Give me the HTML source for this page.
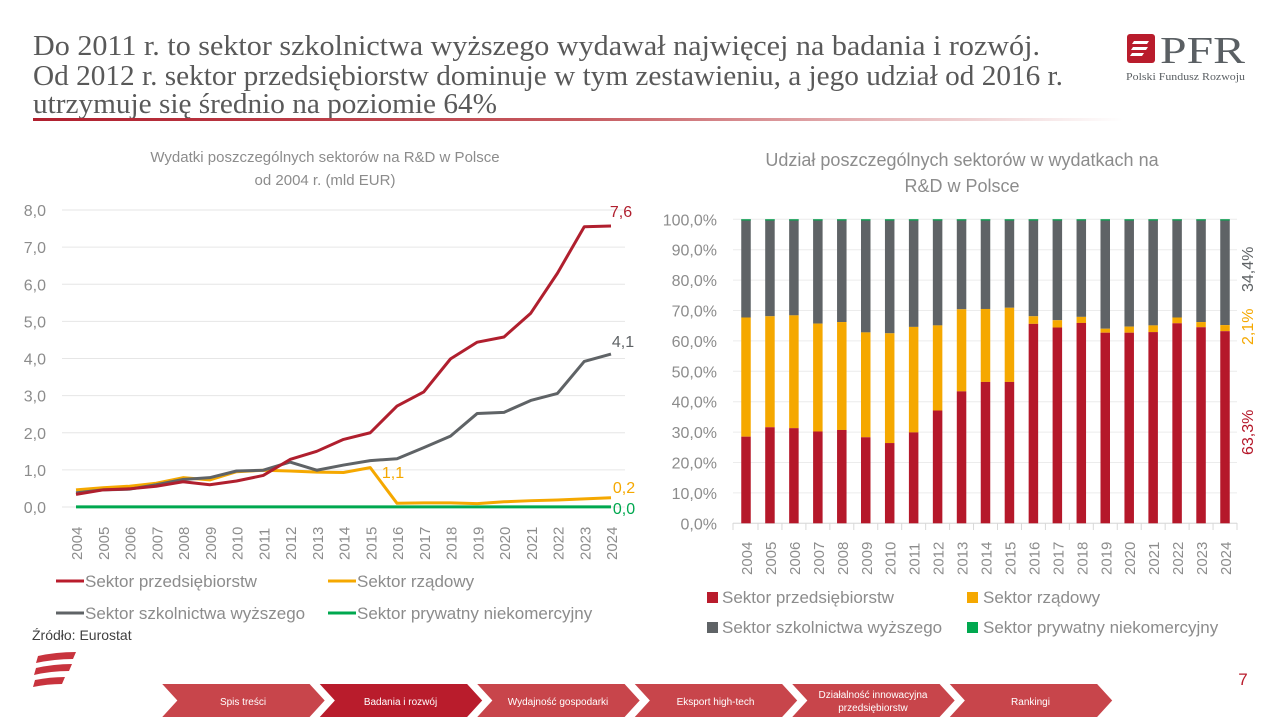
<!DOCTYPE html>
<html><head><meta charset="utf-8"><style>
html,body{margin:0;padding:0;background:#fff;}
body{width:1278px;height:718px;overflow:hidden;position:relative;}
svg{position:absolute;left:0;top:0;}
</style></head><body>
<svg id="s" width="1278" height="718" xmlns="http://www.w3.org/2000/svg" font-family="Liberation Sans, DejaVu Sans, sans-serif">
<defs>
<linearGradient id="g1" x1="0" x2="1" y1="0" y2="0"><stop offset="0" stop-color="#b01f2e"/><stop offset="0.5" stop-color="#c55a5f"/><stop offset="1" stop-color="#ffffff"/></linearGradient>
</defs>
<g font-family="Liberation Serif, serif" font-size="29" fill="#595959">
<text x="33" y="55" textLength="1007" lengthAdjust="spacingAndGlyphs">Do 2011 r. to sektor szkolnictwa wyższego wydawał najwięcej na badania i rozwój.</text>
<text x="33" y="85" textLength="1030" lengthAdjust="spacingAndGlyphs">Od 2012 r. sektor przedsiębiorstw dominuje w tym zestawieniu, a jego udział od 2016 r.</text>
<text x="33" y="113" textLength="464" lengthAdjust="spacingAndGlyphs">utrzymuje się średnio na poziomie 64%</text>
</g>
<rect x="33" y="118" width="1090" height="3" fill="url(#g1)"/>
<!-- logo -->
<rect x="1127" y="34" width="28" height="29" rx="3" fill="#b91c2c"/>
<path d="M1134 41 h15 l-2 3 h-15z M1133 47 h15 l-2 3 h-15z M1132 53 h12 l-2 3 h-12z" fill="#fff"/>
<text x="1160" y="63" font-family="Liberation Serif, serif" font-size="38" fill="#5a5f63" textLength="85" lengthAdjust="spacingAndGlyphs">PFR</text>
<text x="1126" y="80" font-family="Liberation Serif, serif" font-size="10" fill="#5a5f63" textLength="119" lengthAdjust="spacingAndGlyphs">Polski Fundusz Rozwoju</text>
<g font-size="15" fill="#8c8c8c" text-anchor="middle">
<text x="325" y="162">Wydatki poszczególnych sektorów na R&amp;D w Polsce</text>
<text x="325" y="185">od 2004 r. (mld EUR)</text>
</g>
<g font-size="18" fill="#8c8c8c" text-anchor="middle">
<text x="962" y="166">Udział poszczególnych sektorów w wydatkach na</text>
<text x="962" y="192">R&amp;D w Polsce</text>
</g>
<g id="left"></g>
<g id="right"></g>
<g font-size="17" fill="#8c8c8c">
<line x1="56" y1="581" x2="84" y2="581" stroke="#b91c2c" stroke-width="3"/><text x="85" y="587">Sektor przedsiębiorstw</text>
<line x1="328" y1="581" x2="356" y2="581" stroke="#f5a800" stroke-width="3"/><text x="357" y="587">Sektor rządowy</text>
<line x1="56" y1="613" x2="84" y2="613" stroke="#5f6366" stroke-width="3"/><text x="85" y="619">Sektor szkolnictwa wyższego</text>
<line x1="328" y1="613" x2="356" y2="613" stroke="#00a84f" stroke-width="3"/><text x="357" y="619">Sektor prywatny niekomercyjny</text>
<rect x="707" y="592" width="11" height="11" fill="#b91c2c"/><text x="722" y="603">Sektor przedsiębiorstw</text>
<rect x="967" y="592" width="11" height="11" fill="#f5a800"/><text x="983" y="603">Sektor rządowy</text>
<rect x="707" y="622" width="11" height="11" fill="#5f6366"/><text x="722" y="633">Sektor szkolnictwa wyższego</text>
<rect x="967" y="622" width="11" height="11" fill="#00a84f"/><text x="983" y="633">Sektor prywatny niekomercyjny</text>
</g>
<text x="32" y="640" font-size="14" fill="#404040">Źródło: Eurostat</text>
<path d="M38 656 q18 -4 38 -4 l-3 7 q-18 0 -37 4z M36 668 q18 -4 36 -4 l-3 7 q-18 0 -35 4z M35 680 q15 -3 30 -3 l-3 7 q-15 0 -29 3z" fill="#c8333d"/>
<text x="1243" y="685" font-size="17" fill="#b91c2c" text-anchor="middle">7</text>
<g id="nav"></g>
</svg>
<script>
var NS="http://www.w3.org/2000/svg";
function el(p,t,a,txt){var e=document.createElementNS(NS,t);for(var k in a)e.setAttribute(k,a[k]);if(txt!==undefined)e.textContent=txt;p.appendChild(e);return e;}
var L=document.getElementById('left');
function Y(v){return 507-37.125*v;}
function X(i){return 76+26.75*i;}
for(var g=0;g<=8;g++){var y=Y(g);el(L,'line',{x1:62,x2:625,y1:y,y2:y,stroke:'#e6e6e6','stroke-width':1});
el(L,'text',{x:46,y:y+6,'font-size':16,fill:'#8c8c8c','text-anchor':'end'},g+',0');}
for(var i=0;i<21;i++){var x=X(i);el(L,'text',{transform:'translate('+(x+6)+',560) rotate(-90)','font-size':15,fill:'#8c8c8c'},String(2004+i));}
var red=[0.34,0.46,0.49,0.56,0.68,0.60,0.70,0.85,1.28,1.50,1.82,2.0,2.72,3.1,3.99,4.44,4.58,5.22,6.3,7.55,7.57];
var gray=[0.38,0.46,0.48,0.6,0.74,0.79,0.97,0.99,1.21,0.99,1.13,1.25,1.3,1.6,1.91,2.52,2.55,2.87,3.06,3.92,4.12];
var orn=[0.46,0.52,0.56,0.64,0.79,0.73,0.95,0.99,0.97,0.94,0.93,1.06,0.1,0.11,0.11,0.09,0.14,0.17,0.19,0.22,0.25];
var grn=[];for(i=0;i<21;i++)grn.push(0.005);
function pl(d,c){var p=d.map(function(v,i){return X(i)+','+Y(v)}).join(' ');el(L,'polyline',{points:p,fill:'none',stroke:c,'stroke-width':3,'stroke-linejoin':'round'});}
pl(grn,'#00a84f');pl(orn,'#f5a800');pl(gray,'#5f6366');pl(red,'#b01f2e');
el(L,'text',{x:621,y:217,'font-size':16,fill:'#b01f2e','text-anchor':'middle'},'7,6');
el(L,'text',{x:623,y:347,'font-size':16,fill:'#5f6366','text-anchor':'middle'},'4,1');
el(L,'text',{x:393,y:478,'font-size':16,fill:'#f5a800','text-anchor':'middle'},'1,1');
el(L,'text',{x:624,y:493,'font-size':16,fill:'#f5a800','text-anchor':'middle'},'0,2');
el(L,'text',{x:624,y:514,'font-size':16,fill:'#00a84f','text-anchor':'middle'},'0,0');
var R=document.getElementById('right');
function YP(p){return 523.3-3.04*p;}
for(g=0;g<=10;g++){var y=YP(g*10);el(R,'line',{x1:733,x2:1237,y1:y,y2:y,stroke:'#ececec','stroke-width':1});
el(R,'text',{x:717,y:y+6,'font-size':16,fill:'#8c8c8c','text-anchor':'end'},(g*10)+',0%');}
el(R,'line',{x1:733,x2:1237,y1:523.3,y2:523.3,stroke:'#d9d9d9'});
var rT=[28.5,31.6,31.3,30.2,30.7,28.3,26.4,29.9,37.1,43.4,46.5,46.5,65.6,64.4,65.9,62.7,62.7,62.9,65.8,64.5,63.2];
var oT=[67.7,68.1,68.4,65.7,66.2,62.8,62.5,64.6,65.1,70.4,70.5,70.9,68.1,66.8,67.9,64.0,64.7,65.1,67.7,66.2,65.2];
for(i=0;i<21;i++){var cx=746+23.95*i,w=9.5,x0=cx-w/2;
el(R,'rect',{x:x0,y:YP(100),width:w,height:YP(oT[i])-YP(100),fill:'#5f6366'});
el(R,'rect',{x:x0,y:YP(100),width:w,height:1.2,fill:'#00a84f'});
el(R,'rect',{x:x0,y:YP(oT[i]),width:w,height:YP(rT[i])-YP(oT[i]),fill:'#f5a800'});
el(R,'rect',{x:x0,y:YP(rT[i]),width:w,height:523.3-YP(rT[i]),fill:'#b5182a'});
el(R,'line',{x1:cx+12,x2:cx+12,y1:523,y2:530,stroke:'#d9d9d9'});
el(R,'text',{transform:'translate('+(cx+6)+',575) rotate(-90)','font-size':15,fill:'#8c8c8c'},String(2004+i));}
el(R,'line',{x1:733,x2:733,y1:523,y2:530,stroke:'#d9d9d9'});
el(R,'text',{transform:'translate(1253,292) rotate(-90)','font-size':16,fill:'#5f6366'},'34,4%');
el(R,'text',{transform:'translate(1253,345) rotate(-90)','font-size':16,fill:'#f5a800'},'2,1%');
el(R,'text',{transform:'translate(1253,455) rotate(-90)','font-size':16,fill:'#b5182a'},'63,3%');
var N=document.getElementById('nav');
var labs=[['Spis treści'],['Badania i rozwój'],['Wydajność gospodarki'],['Eksport high-tech'],['Działalność innowacyjna','przedsiębiorstw'],['Rankingi']];
for(i=0;i<6;i++){var x=160+157.5*i,c=i==1?'#b91c2c':'#c8454b';
var p=x+','+683+' '+(x+150)+',683 '+(x+166)+',700.5 '+(x+150)+',718 '+x+',718 '+(x+16)+',700.5';
el(N,'polygon',{points:p,fill:c,stroke:'#fff','stroke-width':2});
var cxn=x+83;
if(labs[i].length==1)el(N,'text',{x:cxn,y:705,'font-size':10,fill:'#fff','text-anchor':'middle'},labs[i][0]);
else{el(N,'text',{x:cxn,y:698,'font-size':10,fill:'#fff','text-anchor':'middle'},labs[i][0]);el(N,'text',{x:cxn,y:711,'font-size':10,fill:'#fff','text-anchor':'middle'},labs[i][1]);}}
</script>
</body></html>
